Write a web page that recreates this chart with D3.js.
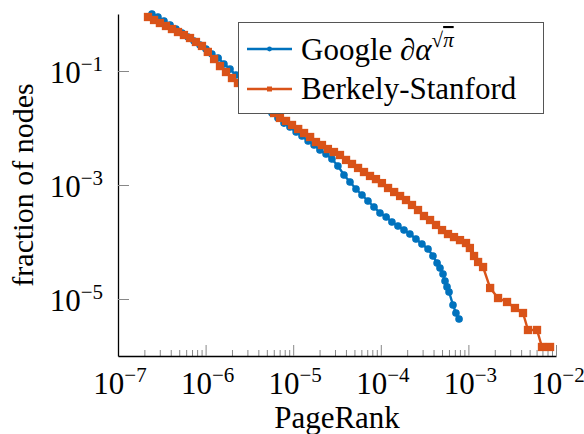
<!DOCTYPE html>
<html lang="en">

<head>
    <meta charset="UTF-8">
    <title>PageRank distribution</title>
    <script src="https://d3js.org/d3.v7.min.js"></script>
    <style>
        body {
            margin: 0;
            background: #fff;
        }

        svg text {
            font-family: 'Liberation Serif', 'DejaVu Serif', serif;
            fill: #000;
        }
    </style>
</head>

<body>
    <svg id="chart" width="584" height="434"></svg>

    <script>
        // series (PageRank value, fraction of nodes)
        const googleX = [2.44e-7, 2.86e-7, 3.35e-7, 3.93e-7, 4.59e-7, 5.38e-7, 6.30e-7, 7.38e-7, 8.63e-7, 1.01e-6,
            1.18e-6, 1.39e-6, 1.62e-6, 1.90e-6, 2.22e-6, 2.61e-6, 3.05e-6, 3.57e-6, 4.18e-6, 4.89e-6,
            5.73e-6, 6.70e-6, 7.85e-6, 9.19e-6, 1.08e-5, 1.26e-5, 1.48e-5, 1.73e-5, 2.02e-5, 2.37e-5,
            2.77e-5, 3.24e-5, 3.80e-5, 4.45e-5, 5.21e-5, 6.10e-5, 7.14e-5, 8.36e-5, 9.79e-5, 1.15e-4,
            1.34e-4, 1.57e-4, 1.84e-4, 2.15e-4, 2.52e-4, 2.95e-4, 3.46e-4, 3.94e-4, 4.39e-4, 4.74e-4,
            5.13e-4, 5.41e-4, 5.70e-4, 6.01e-4, 6.67e-4, 7.21e-4, 7.82e-4];
        const googleY = [1.0, 0.886, 0.754, 0.641, 0.545, 0.464, 0.395, 0.336, 0.286, 0.243,
            0.199, 0.169, 0.133, 0.108, 0.0851, 0.0695, 0.0546, 0.0428, 0.0323, 0.0243,
            0.0183, 0.0150, 0.0122, 0.0104, 0.00851, 0.00724, 0.00592, 0.00503, 0.00411, 0.00350,
            0.00286, 0.00216, 0.00150, 0.00113, 8.51e-4, 6.68e-4, 5.24e-4, 4.11e-4, 3.23e-4, 2.75e-4,
            2.24e-4, 1.91e-4, 1.62e-4, 1.38e-4, 1.13e-4, 9.23e-5, 7.53e-5, 5.68e-5, 4.28e-5, 3.50e-5,
            2.75e-5, 2.07e-5, 1.63e-5, 1.33e-5, 7.85e-6, 5.68e-6, 4.46e-6];

        const berkelyX = [2.20e-7, 2.58e-7, 3.01e-7, 3.53e-7, 4.13e-7, 4.84e-7, 5.66e-7, 6.64e-7, 7.76e-7, 9.09e-7,
            1.06e-6, 1.25e-6, 1.46e-6, 1.71e-6, 2.00e-6, 2.34e-6, 2.74e-6, 3.21e-6, 3.76e-6, 4.40e-6,
            5.15e-6, 6.04e-6, 7.06e-6, 8.28e-6, 9.69e-6, 1.14e-5, 1.33e-5, 1.56e-5, 1.82e-5, 2.13e-5,
            2.49e-5, 2.92e-5, 3.42e-5, 4.01e-5, 4.69e-5, 5.50e-5, 6.43e-5, 7.53e-5, 8.81e-5, 1.03e-4,
            1.21e-4, 1.42e-4, 1.66e-4, 1.94e-4, 2.27e-4, 2.66e-4, 3.11e-4, 3.65e-4, 4.27e-4, 5.00e-4,
            5.85e-4, 6.85e-4, 8.02e-4, 9.39e-4, 1.04e-3, 1.16e-3, 1.29e-3, 1.47e-3, 1.77e-3, 2.18e-3,
            2.76e-3, 3.40e-3, 4.20e-3, 4.79e-3, 6.07e-3, 6.92e-3, 8.55e-3];
        const berkelyY = [0.886, 0.785, 0.695, 0.616, 0.545, 0.483, 0.428, 0.379, 0.323, 0.275,
            0.216, 0.162, 0.122, 0.0960, 0.0753, 0.0616, 0.0503, 0.0411, 0.0336, 0.0264,
            0.0216, 0.0183, 0.0150, 0.0133, 0.0113, 0.00960, 0.00817, 0.00695, 0.00568, 0.00503,
            0.00428, 0.00379, 0.00336, 0.00275, 0.00234, 0.00199, 0.00169, 0.00144, 0.00127, 0.00108,
            8.86e-4, 7.53e-4, 6.41e-4, 5.45e-4, 4.46e-4, 3.64e-4, 2.86e-4, 2.43e-4, 1.99e-4, 1.62e-4,
            1.38e-4, 1.22e-4, 1.08e-4, 9.60e-5, 7.85e-5, 5.68e-5, 4.46e-5, 3.64e-5, 1.56e-5, 1.04e-5,
            8.86e-6, 6.95e-6, 5.68e-6, 2.86e-6, 2.86e-6, 1.44e-6, 1.44e-6];

        // tick exponents
        const xTickExps = [-7, -6, -5, -4, -3, -2];
        const yTickExps = [-1, -3, -5];

        const blue = "#0072bd";
        const orange = "#d95319";

        const svg = d3.select("#chart");
        const plotLeft = 118, plotRight = 556, plotTop = 14, plotBottom = 356;

        const x = d3.scaleLog().domain([1e-7, 1e-2]).range([plotLeft, plotRight]);
        const y = d3.scaleLog().domain([1e-6, 1]).range([plotBottom, plotTop]);

        // minor ticks on x (inward), major ticks on both axes
        const minorX = x.ticks().filter(v => !xTickExps.some(e => Math.abs(Math.log10(v) - e) < 1e-9));

        svg.append("g")
            .attr("transform", `translate(0,${plotBottom})`)
            .call(d3.axisBottom(x).tickValues(minorX).tickSize(-6).tickFormat("").tickSizeOuter(0))
            .call(g => g.select(".domain").remove())
            .call(g => g.selectAll("line").attr("stroke", "#888").attr("stroke-width", 1));

        const xAxis = svg.append("g")
            .attr("transform", `translate(0,${plotBottom})`)
            .call(d3.axisBottom(x).tickValues(xTickExps.map(e => Math.pow(10, e))).tickSize(-11).tickFormat("").tickSizeOuter(0));
        xAxis.select(".domain").attr("stroke", "#000").attr("stroke-width", 1.3);
        xAxis.selectAll(".tick line").attr("stroke", "#888").attr("stroke-width", 1);

        const yAxis = svg.append("g")
            .attr("transform", `translate(${plotLeft},0)`)
            .call(d3.axisLeft(y).tickValues(yTickExps.map(e => Math.pow(10, e))).tickSize(-11).tickFormat("").tickSizeOuter(0));
        yAxis.select(".domain").attr("stroke", "#000").attr("stroke-width", 1.3);
        yAxis.selectAll(".tick line").attr("stroke", "#888").attr("stroke-width", 1);

        function powerLabel(t, e) {
            t.append("tspan").text("10");
            t.append("tspan").attr("dy", -12).attr("font-size", 21).text("\u2212" + Math.abs(e));
        }

        xTickExps.forEach(e => {
            const t = svg.append("text")
                .attr("x", x(Math.pow(10, e)) + 2)
                .attr("y", plotBottom + 38)
                .attr("font-size", 31)
                .attr("text-anchor", "middle");
            powerLabel(t, e);
        });

        yTickExps.forEach(e => {
            const t = svg.append("text")
                .attr("x", plotLeft - 15)
                .attr("y", y(Math.pow(10, e)) + 12)
                .attr("font-size", 31)
                .attr("text-anchor", "end");
            powerLabel(t, e);
        });

        svg.append("text")
            .attr("x", (plotLeft + plotRight) / 2)
            .attr("y", 428)
            .attr("font-size", 31)
            .attr("text-anchor", "middle")
            .text("PageRank");

        svg.append("text")
            .attr("transform", `translate(33,${(plotTop + plotBottom) / 2}) rotate(-90)`)
            .attr("font-size", 30)
            .attr("text-anchor", "middle")
            .text("fraction of nodes");

        // series
        const google = googleX.map((v, i) => [v, googleY[i]]);
        const berkely = berkelyX.map((v, i) => [v, berkelyY[i]]);
        const line = d3.line().x(d => x(d[0])).y(d => y(d[1]));

        svg.append("path").datum(google)
            .attr("d", line).attr("fill", "none")
            .attr("stroke", blue).attr("stroke-width", 2.4);
        svg.append("g").selectAll("circle").data(google).join("circle")
            .attr("cx", d => x(d[0])).attr("cy", d => y(d[1])).attr("r", 3.2)
            .attr("fill", blue).attr("stroke", blue).attr("stroke-width", 1.2);

        svg.append("path").datum(berkely)
            .attr("d", line).attr("fill", "none")
            .attr("stroke", orange).attr("stroke-width", 2.4);
        svg.append("g").selectAll("rect").data(berkely).join("rect")
            .attr("x", d => x(d[0]) - 3.5).attr("y", d => y(d[1]) - 3.5)
            .attr("width", 7).attr("height", 7)
            .attr("fill", orange).attr("stroke", orange).attr("stroke-width", 1.3);

        // legend
        const lg = svg.append("g");
        lg.append("rect")
            .attr("x", 238.5).attr("y", 22.5).attr("width", 305).attr("height", 91)
            .attr("fill", "#fff").attr("stroke", "#555").attr("stroke-width", 1);

        const rows = [
            { color: blue, cy: 49, mark: "circle" },
            { color: orange, cy: 89, mark: "square" }
        ];
        rows.forEach(r => {
            lg.append("line")
                .attr("x1", 247).attr("x2", 292).attr("y1", r.cy).attr("y2", r.cy)
                .attr("stroke", r.color).attr("stroke-width", 2.4);
            if (r.mark == "circle") {
                lg.append("circle").attr("cx", 269.5).attr("cy", r.cy).attr("r", 2.4).attr("fill", r.color);
            } else {
                lg.append("rect").attr("x", 267).attr("y", r.cy - 2.5).attr("width", 5).attr("height", 5)
                    .attr("fill", r.color);
            }
        });

        const g1 = lg.append("text").attr("x", 301).attr("y", 60).attr("font-size", 31);
        g1.append("tspan").text("Google ");
        g1.append("tspan").attr("font-style", "italic").text("\u2202\u03b1");
        g1.append("tspan").attr("dy", -13).attr("font-size", 21).text("\u221a");
        g1.append("tspan").attr("font-size", 21).attr("font-style", "italic")
            .attr("text-decoration", "overline").text("\u03c0");

        lg.append("text").attr("x", 301).attr("y", 99).attr("font-size", 31).text("Berkely-Stanford");
    </script>
</body>

</html>
